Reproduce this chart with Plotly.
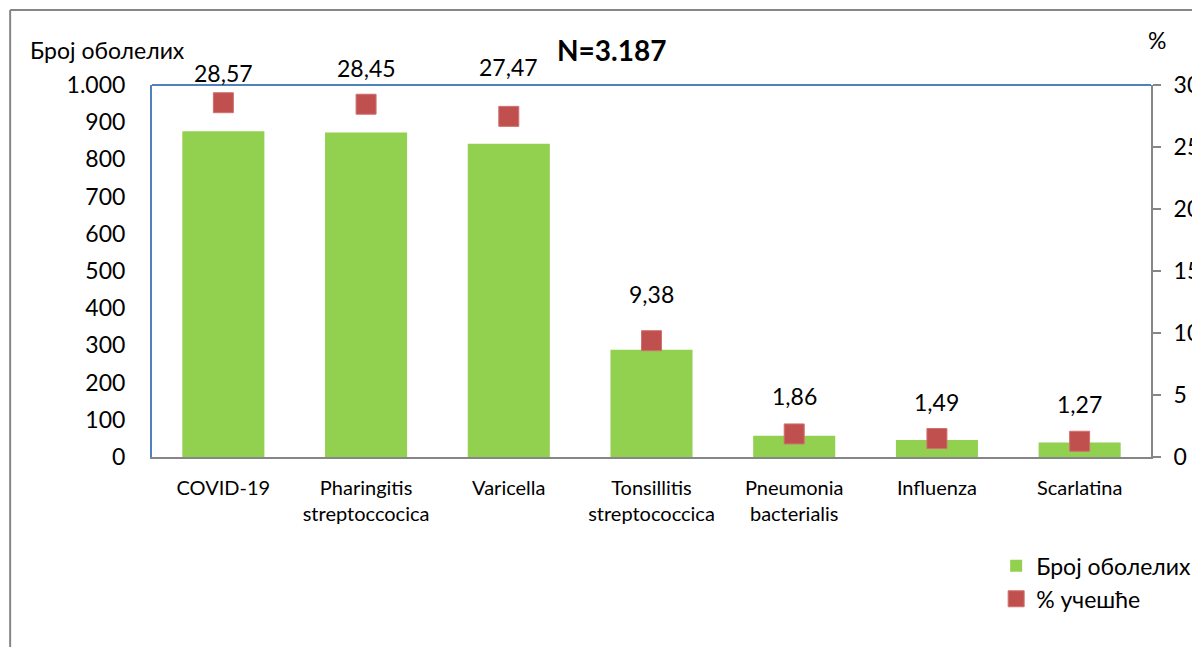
import plotly.graph_objects as go

categories = ["COVID-19", "Pharingitis<br>streptoccocica", "Varicella",
              "Tonsillitis<br>streptococcica", "Pneumonia<br>bacterialis",
              "Influenza", "Scarlatina"]
cases = [876, 872, 842, 288, 57, 46, 39]
percent = [28.57, 28.45, 27.47, 9.38, 1.86, 1.49, 1.27]
percent_labels = ["28,57", "28,45", "27,47", "9,38", "1,86", "1,49", "1,27"]
left_ticks = [0, 100, 200, 300, 400, 500, 600, 700, 800, 900, 1000]
left_tick_labels = ["0", "100", "200", "300", "400", "500", "600", "700", "800", "900", "1.000"]
right_ticks = [0, 5, 10, 15, 20, 25, 30]

# pixel offsets of the data labels above their markers (style only)
label_shift_px = [30, 36, 49, 47, 38, 37, 37]

FONT = "Lato, 'Open Sans', sans-serif"
GREEN = "#92D050"
RED = "#C0504D"
BLUE = "#4F81BD"
GRAY = "#868686"

fig = go.Figure()
fig.add_trace(go.Bar(x=categories, y=cases, name="Број оболелих",
                     marker=dict(color=GREEN, line=dict(width=0))))
fig.add_trace(go.Scatter(x=categories, y=percent, name="% учешће", yaxis="y2",
                         mode="markers",
                         marker=dict(symbol="square", size=20, color=RED,
                                     line=dict(width=1, color="#D07070"))))

for c, p, t, s in zip(categories, percent, percent_labels, label_shift_px):
    fig.add_annotation(x=c, y=p, yref="y2", text=t, showarrow=False,
                       yshift=s, yanchor="middle",
                       font=dict(size=23, color="#000000", family=FONT))

fig.add_annotation(xref="paper", yref="paper", x=0.46, y=1.094, yanchor="middle",
                   text="<b>N=3.187</b>",
                   showarrow=False, font=dict(size=28, color="#000000", family=FONT))
fig.add_annotation(xref="paper", yref="paper", x=-0.124, y=1.094, xanchor="left",
                   yanchor="middle", text="Број оболелих", showarrow=False,
                   font=dict(size=23, color="#000000", family=FONT))
fig.add_annotation(xref="paper", yref="paper", x=1.006, y=1.121, xanchor="center",
                   yanchor="middle", text="%", showarrow=False,
                   font=dict(size=23, color="#000000", family=FONT))

# outer chart border and top frame line
fig.add_shape(type="line", xref="paper", yref="paper", x0=-0.142, x1=-0.142,
              y0=1.2016, y1=-0.6, line=dict(color=GRAY, width=2))
fig.add_shape(type="line", xref="paper", yref="paper", x0=-0.142, x1=1.1,
              y0=1.2016, y1=1.2016, line=dict(color=GRAY, width=2))
fig.add_shape(type="line", xref="paper", yref="paper", x0=0, x1=1,
              y0=1, y1=1, line=dict(color=BLUE, width=2))

fig.update_layout(
    width=1192, height=639,
    margin=dict(l=144, r=49, t=77, b=190, autoexpand=False),
    paper_bgcolor="white", plot_bgcolor="white",
    font=dict(family=FONT, size=20, color="#000000"),
    bargap=0.425,
    showlegend=True,
    legend=dict(x=0.845, y=-0.235, xanchor="left", yanchor="top",
                font=dict(size=23, family=FONT), bgcolor="rgba(0,0,0,0)",
                itemwidth=30, tracegroupgap=0),
    xaxis=dict(showline=True, linecolor=GRAY, linewidth=2, showgrid=False,
               ticks="", tickfont=dict(size=20), ticklabelstandoff=12,
               automargin=False),
    yaxis=dict(range=[0, 1000], tickvals=left_ticks, ticktext=left_tick_labels,
               showline=True, linecolor=BLUE, linewidth=2, showgrid=False,
               zeroline=False, ticks="", ticklabelstandoff=20,
               tickfont=dict(size=23), automargin=False),
    yaxis2=dict(range=[0, 30], tickvals=right_ticks, overlaying="y", side="right",
                showline=True, linecolor=GRAY, linewidth=2, showgrid=False,
                zeroline=False, ticks="outside", ticklen=8, tickcolor=GRAY,
                tickwidth=2, ticklabelstandoff=8, tickfont=dict(size=23),
                automargin=False),
)

fig.write_html("out.html")
